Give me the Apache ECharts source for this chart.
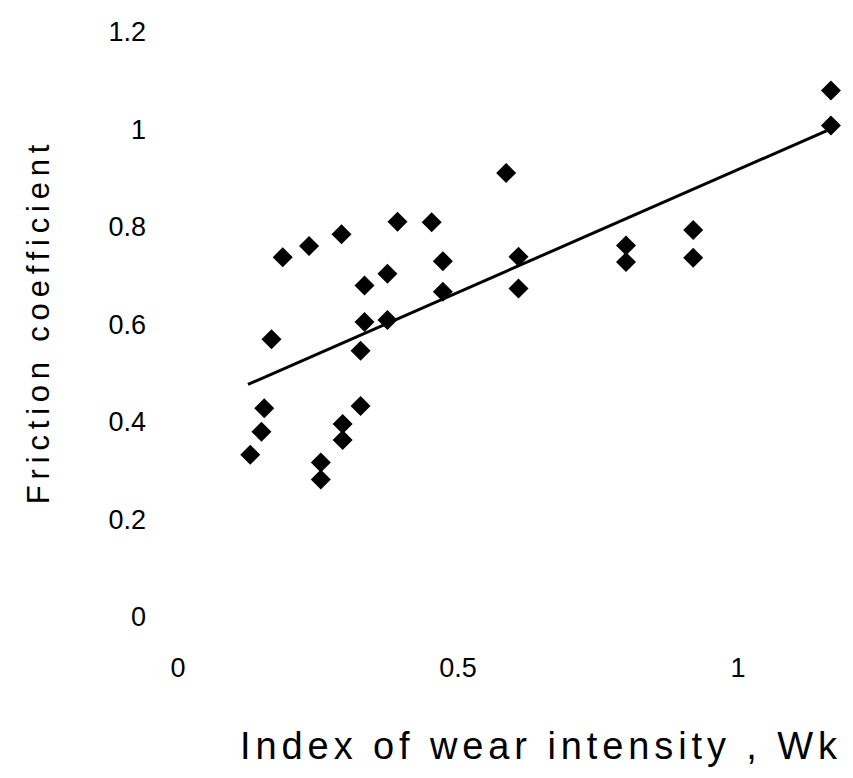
<!DOCTYPE html>
<html>
<head>
<meta charset="utf-8">
<script src="https://cdn.jsdelivr.net/npm/echarts@6/dist/echarts.min.js"></script>
<style>html,body{margin:0;padding:0;background:#fff;}#c{width:853px;height:778px;}</style>
</head>
<body>
<div id="c"></div>
<script>
const wearIndex = [0.187,0.234,0.292,0.392,0.453,0.473,0.374,0.333,0.473,0.333,0.374,0.167,0.326,0.154,0.149,0.129,0.326,0.294,0.294,0.255,0.255,0.586,0.608,0.608,0.800,0.800,0.920,0.920,1.166,1.166];
const friction  = [0.738,0.761,0.785,0.811,0.810,0.730,0.704,0.680,0.667,0.605,0.609,0.570,0.546,0.428,0.380,0.333,0.433,0.396,0.363,0.317,0.282,0.911,0.739,0.674,0.762,0.728,0.794,0.737,1.080,1.008];
const trendX = [0.125, 1.165];
const trendY = [0.477, 1.001];
const yTicks = [0, 0.2, 0.4, 0.6, 0.8, 1, 1.2];
const xTicks = [0, 0.5, 1];
const xTitle = 'Index of wear intensity , Wk';
const yTitle = 'Friction coefficient';

const chart = echarts.init(document.getElementById('c'), null, {renderer:'svg'});
const font = "'Liberation Sans', Arial, sans-serif";
chart.setOption({
  backgroundColor: '#ffffff',
  animation: false,
  grid: {left: 178, top: 32, width: 677, height: 585},
  xAxis: {
    type: 'value', min: 0, max: 1.2, interval: 0.5,
    axisLine: {show: false}, axisTick: {show: false}, splitLine: {show: false},
    axisLabel: {margin: 37, fontSize: 27, color: '#000', fontFamily: font,
      formatter: v => xTicks.includes(v) ? String(v) : ''},
    name: xTitle, nameLocation: 'middle', nameGap: 110,
    nameTextStyle: {fontSize: 38, color: '#000', fontFamily: font, padding: [0,0,0,54]}
  },
  yAxis: {
    type: 'value', min: 0, max: 1.2, interval: 0.2,
    axisLine: {show: false}, axisTick: {show: false}, splitLine: {show: false},
    axisLabel: {margin: 32, fontSize: 27, color: '#000', fontFamily: font,
      formatter: v => { const t = yTicks.find(k => Math.abs(k - v) < 1e-9); return t === undefined ? '' : String(t); }},
    name: yTitle, nameLocation: 'middle', nameGap: 124,
    nameTextStyle: {fontSize: 31, color: '#000', fontFamily: font, padding: [0,0,0,6]}
  },
  series: [
    {
      type: 'line', data: trendX.map((x, i) => [x, trendY[i]]),
      symbol: 'none', lineStyle: {color: '#000', width: 3}, z: 1
    },
    {
      type: 'scatter', data: wearIndex.map((x, i) => [x, friction[i]]),
      symbol: 'diamond', symbolSize: 20, itemStyle: {color: '#000', opacity: 1}, z: 2
    }
  ]
});
function spaceTitles() {
  document.querySelectorAll('#c text').forEach(t => {
    const s = t.textContent.trim();
    if (s === xTitle) t.style.letterSpacing = '4.9px';
    else if (s === yTitle) t.style.letterSpacing = '5.8px';
  });
}
spaceTitles();
chart.on('finished', spaceTitles);
</script>
</body>
</html>
